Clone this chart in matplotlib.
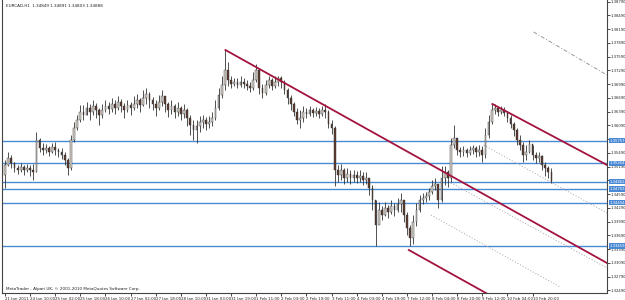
import matplotlib
matplotlib.use("Agg")
import matplotlib.pyplot as plt
import numpy as np

# ---- data (prices as pips above 1.3000) ----
first_open = 501
closes = [523,538,527,516,512,518,512,516,512,507,577,560,555,560,551,562,555,551,545,534,
          516,577,603,621,638,632,647,638,651,643,632,643,651,645,656,647,660,651,643,654,
          647,656,665,654,669,678,665,656,647,660,673,656,643,651,638,647,634,643,625,610,
          599,608,617,621,612,617,625,647,675,697,730,708,699,704,697,704,699,695,691,708,
          730,691,680,697,708,695,704,713,704,686,669,656,638,621,625,638,634,643,636,641,
          634,643,638,612,603,512,501,512,494,503,494,501,494,499,490,494,473,446,392,425,
          414,429,420,433,425,438,446,414,385,363,398,425,446,451,455,464,477,481,446,494,
          507,494,566,582,555,551,555,549,555,560,551,555,545,588,617,643,647,638,643,636,
          625,612,599,577,566,545,551,569,545,538,542,523,516,507,488]
highs = [534,551,545,529,523,527,523,525,523,525,595,582,571,569,564,571,573,560,560,551,
         538,588,617,632,654,654,660,656,665,658,647,656,665,660,669,665,673,667,658,665,
         660,673,678,669,686,691,682,671,665,675,686,673,660,665,656,660,651,656,647,632,
         621,621,630,632,627,630,638,665,691,717,774,747,717,713,713,717,713,708,704,726,
         743,721,699,708,717,713,717,717,717,708,691,675,660,647,643,651,647,651,647,649,
         647,651,656,643,621,608,523,525,516,516,512,512,510,512,507,507,494,479,446,442,
         433,442,435,446,440,451,462,435,420,392,414,440,457,462,464,473,490,494,477,521,
         521,512,582,610,577,562,564,560,564,566,564,566,564,603,632,656,656,651,651,649,
         638,632,617,603,588,573,566,577,566,551,551,545,529,521,516]
lows = [473,521,516,507,503,507,501,507,499,490,507,551,545,549,542,549,545,540,536,523,
        501,512,573,599,617,621,632,621,632,625,610,625,638,634,638,634,643,638,625,638,
        632,643,647,638,651,656,647,643,630,643,651,638,627,634,625,630,621,625,608,588,
        577,571,595,603,599,603,608,621,643,669,686,695,691,695,691,693,691,686,682,686,
        704,678,669,675,691,686,691,695,691,678,656,643,630,612,603,617,625,630,627,630,
        625,630,625,603,590,477,486,490,481,486,481,486,483,486,479,481,457,425,346,398,
        403,411,407,416,411,420,420,398,370,346,350,390,420,438,442,446,459,468,429,442,
        479,475,486,560,545,540,542,540,545,547,540,542,529,538,582,612,634,630,634,630,
        617,603,586,566,555,529,534,549,534,527,529,512,499,494,483]

tick_labels = ['21 Jan 2011', '24 Jan 10:00', '25 Jan 02:00', '25 Jan 18:00', '26 Jan 10:00',
               '27 Jan 02:00', '27 Jan 18:00', '28 Jan 10:00', '31 Jan 03:00', '31 Jan 19:00',
               '1 Feb 11:00', '2 Feb 03:00', '2 Feb 19:00', '3 Feb 11:00', '4 Feb 03:00',
               '4 Feb 19:00', '7 Feb 12:00', '8 Feb 04:00', '8 Feb 20:00', '9 Feb 12:00',
               '10 Feb 04:00', '10 Feb 20:00']
hlines = [1.35757, 1.35264, 1.34862, 1.34703, 1.34404, 1.33459]
ytick_vals = [1.38790 - 0.003 * k for k in range(22)]

# trend lines: (bar, price) pairs
main_line = [(70.2, 1.37736), (191.7, 1.33088)]
lower_line = [(128.6, 1.33372), (191.7, 1.30960)]
small_line = [(155.2, 1.36558), (191.7, 1.35227)]
dashdot_line = [(168.3, 1.38130), (191.7, 1.37190)]
dotted_lines = [
    [(152.4, 1.35663), (191.7, 1.34179)],
    [(140.3, 1.34900), (191.7, 1.32980)],
    [(135.6, 1.34136), (176.8, 1.32565)],
]

# ---- figure ----
fig = plt.figure(figsize=(6.25, 3.0), dpi=100)
ax = fig.add_axes([2/625, 7/300, 605/625, 293/300])
ax.set_facecolor('white')

c = np.array(closes) / 10000 + 1.3
h = np.array(highs) / 10000 + 1.3
l = np.array(lows) / 10000 + 1.3
o = np.concatenate([[first_open / 10000 + 1.3], c[:-1]])
x = np.arange(len(c))

ax.vlines(x, l, h, color='#333333', lw=0.6, zorder=3)
up = c >= o
bot = np.minimum(o, c)
hgt = np.maximum(np.abs(c - o), 0.00004)
ax.bar(x[up], hgt[up], bottom=bot[up], width=0.55, color='#d9d2ca', edgecolor='#333333', lw=0.3, zorder=4)
ax.bar(x[~up], hgt[~up], bottom=bot[~up], width=0.55, color='#5c3a2e', edgecolor='#333333', lw=0.3, zorder=4)

for p in hlines:
    ax.axhline(p, color='#4a8ad4', lw=1.0, zorder=2)

red = '#a3133e'
for ln in (main_line, lower_line, small_line):
    ax.plot([ln[0][0], ln[1][0]], [ln[0][1], ln[1][1]], color=red, lw=1.3, zorder=5)
ax.plot([dashdot_line[0][0], dashdot_line[1][0]], [dashdot_line[0][1], dashdot_line[1][1]],
        color='#999999', lw=0.7, ls=(0, (4, 2, 1, 2)), zorder=2)
for ln in dotted_lines:
    ax.plot([ln[0][0], ln[1][0]], [ln[0][1], ln[1][1]], color='#aaaaaa', lw=0.6,
            ls=(0, (1.5, 2)), zorder=2)

ax.set_xlim(-0.95, 191.7)
ax.set_ylim(1.32434, 1.38827)

ax.set_xticks(np.arange(0, 8 * len(tick_labels), 8))
ax.set_xticklabels(tick_labels, fontsize=2.9, ha='left', color='#222222')
ax.tick_params(axis='x', length=2, width=0.5, pad=0.8)
ax.yaxis.tick_right()
ax.set_yticks(ytick_vals)
ax.set_yticklabels(['%.5f' % v for v in ytick_vals], fontsize=2.7, color='#222222')
ax.tick_params(axis='y', length=2, width=0.5, pad=0.8)

for s in ('left', 'bottom', 'right'):
    ax.spines[s].set_color('#444444')
    ax.spines[s].set_linewidth(0.8)
ax.spines['top'].set_visible(False)

for p in hlines:
    ax.text(1.0035, p, '%.5f' % p, transform=ax.get_yaxis_transform(), fontsize=2.7,
            color='white', va='center', ha='left',
            bbox=dict(boxstyle='square,pad=0.15', fc='#4a8ad4', ec='none'), zorder=6, clip_on=False)

ax.text(4/605, 1 - 6/293, 'EURCAD,H1  1.34849 1.34891 1.34803 1.34888', transform=ax.transAxes,
        fontsize=3.0, color='#222222', va='center', ha='left')
ax.text(4/605, 4/293, 'MetaTrader - Alpari UK, \u00a9 2001-2010 MetaQuotes Software Corp.',
        transform=ax.transAxes, fontsize=3.0, color='#222222', va='center', ha='left')

fig.savefig('out.png', dpi=100, facecolor='white')
